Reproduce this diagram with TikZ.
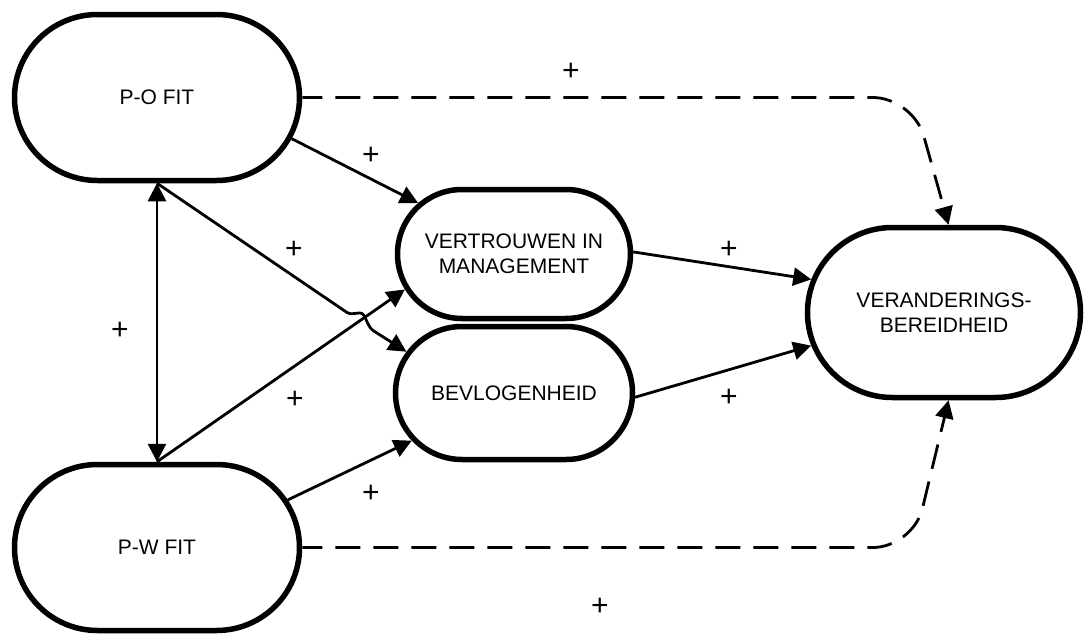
\documentclass[tikz,border=0pt]{standalone}
\usepackage{fontspec}
\setmainfont{Liberation Sans}
\usetikzlibrary{shapes.misc,arrows.meta,calc}

\begin{document}
\begin{tikzpicture}[x=1pt,y=-1pt,
  lbl/.style={font=\fontsize{30}{30}\selectfont, inner sep=0pt},
  stadium/.style={rounded rectangle, draw, line width=5.5pt, align=center,
    inner sep=0pt, font=\fontsize{21}{25}\selectfont},
  tip/.style={-{Triangle[length=18pt,width=18pt]}},
  link/.style={line width=2.8pt, tip},
  dashlink/.style={link, dash pattern=on 25pt off 13pt, dash phase=5pt}
]
\useasboundingbox (0,0) rectangle (1085,637);

% constructs
\node[stadium, minimum width=285pt, minimum height=166pt] (PO) at (157,97.5) {P-O FIT};
\node[stadium, minimum width=285pt, minimum height=166pt] (PW) at (157,547.5) {P-W FIT};
\node[stadium, minimum width=233pt, minimum height=129pt] (VT) at (514,254) {VERTROUWEN IN\\MANAGEMENT};
\node[stadium, minimum width=237pt, minimum height=133pt] (BV) at (514,393) {BEVLOGENHEID};
\node[stadium, minimum width=273pt, minimum height=170pt] (VB) at (944,312.5) {VERANDERINGS-\\BEREIDHEID};

% correlation between the two fit measures
\draw[line width=2.8pt, {Triangle[length=18pt,width=18pt]}-{Triangle[length=18pt,width=18pt]}] (PO.south) -- (PW.north);

% paths towards the mediators
\draw[link] (PO.-17) -- (VT.152);
\draw[link] (PW.north) -- (VT.198);
\draw[link] (PW.20) -- (BV.205);

% line jump over the crossing connector
\coordinate (hopA) at (347,312.5);
\coordinate (hopB) at (360,313);
\coordinate (hopC) at (373,330.5);
\draw[link] (PO.south) -- (hopA)
  .. controls (351,315) and (354,313) .. (hopB)
  .. controls (366,313) and (366,325) .. (hopC) -- (BV.159);

% mediators to outcome
\draw[link] (VT.1) -- (VB.166);
\draw[link] (BV.-2) -- (VB.194);

% direct effects
\coordinate (cornerTop) at (913,97.5);
\coordinate (cornerBot) at (913,547.5);
\draw[dashlink, rounded corners=40pt] (PO.east) -- (cornerTop) -- (VB.87);
\draw[dashlink, rounded corners=40pt] (PW.east) -- (cornerBot) -- (VB.-87);

% signs
\node[lbl] (s1) at (571,72) {+};
\node[lbl] (s2) at (371,156) {+};
\node[lbl] (s3) at (294,250) {+};
\node[lbl] (s4) at (120,331) {+};
\node[lbl] (s5) at (295,400) {+};
\node[lbl] (s6) at (371,494) {+};
\node[lbl] (s7) at (729,250) {+};
\node[lbl] (s8) at (729,398) {+};
\node[lbl] (s9) at (600,607) {+};
\end{tikzpicture}
\end{document}
